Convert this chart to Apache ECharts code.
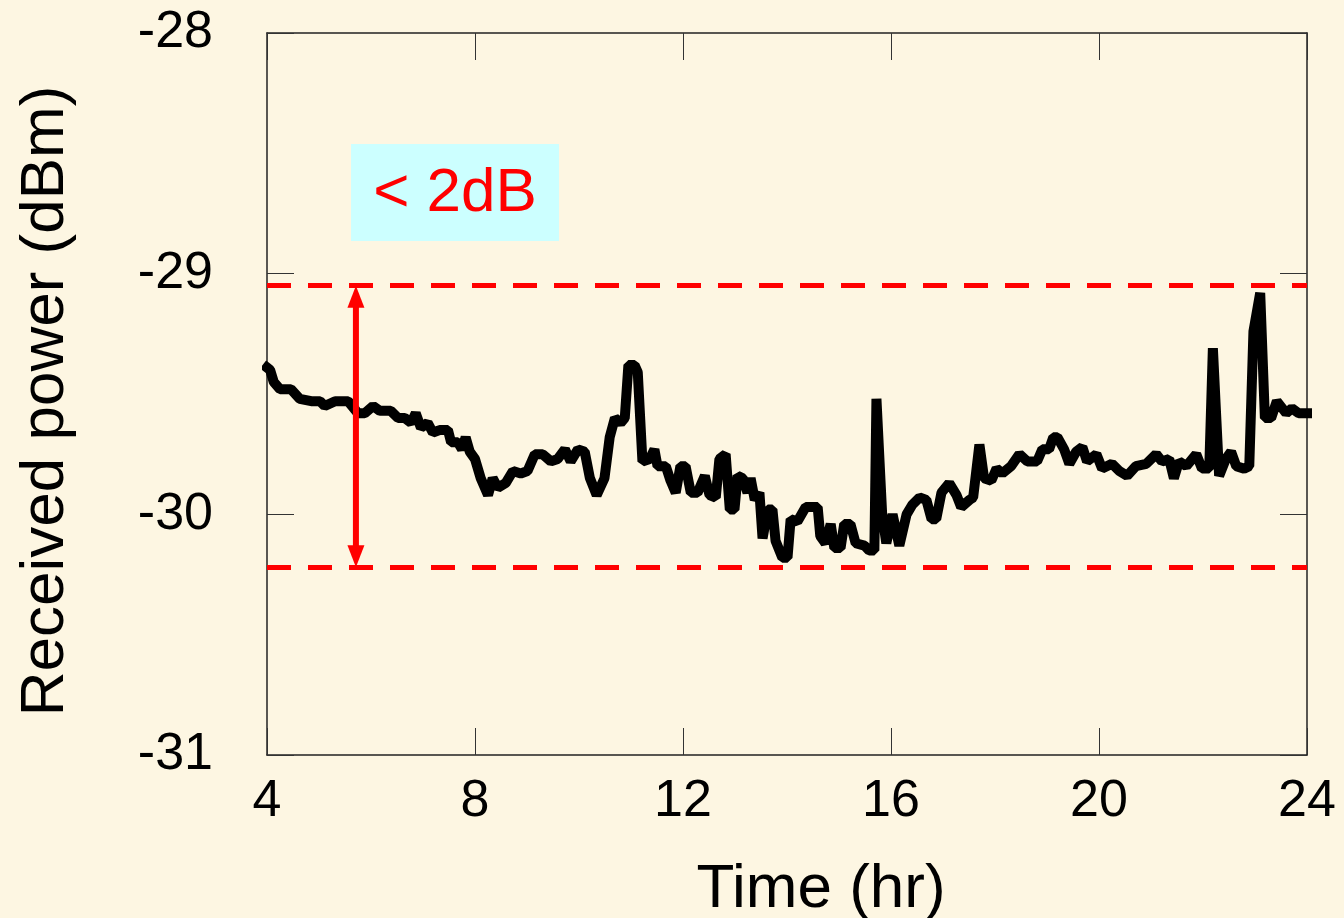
<!DOCTYPE html>
<html>
<head>
<meta charset="utf-8">
<script src="https://cdn.jsdelivr.net/npm/echarts@6/dist/echarts.min.js"></script>
<style>
  html, body { margin: 0; padding: 0; background: #fdf6e2; }
  #chart { width: 1344px; height: 918px; }
</style>
</head>
<body>
<div id="chart"></div>
<script>
// Received optical power over one day (time in hours, power in dBm)
const timeHr = [
  4.00, 4.06, 4.13, 4.25, 4.46, 4.63, 4.85, 5.02, 5.11, 5.31, 5.56, 5.75, 5.88, 6.04, 6.17, 6.38,
  6.52, 6.65, 6.77, 6.86, 6.96, 7.09, 7.19, 7.32, 7.48, 7.54, 7.67, 7.75, 7.82, 7.90, 8.00, 8.11,
  8.25, 8.34, 8.44, 8.59, 8.73, 8.88, 9.01, 9.15, 9.30, 9.46, 9.59, 9.73, 9.84, 9.98, 10.11, 10.21,
  10.34, 10.49, 10.59, 10.69, 10.80, 10.88, 10.95, 11.07, 11.13, 11.22, 11.36, 11.45, 11.51, 11.67,
  11.76, 11.86, 11.95, 12.05, 12.15, 12.28, 12.42, 12.51, 12.63, 12.70, 12.82, 12.90, 12.99, 13.05,
  13.15, 13.24, 13.30, 13.38, 13.47, 13.53, 13.63, 13.72, 13.78, 13.91, 14.01, 14.07, 14.20, 14.36,
  14.45, 14.59, 14.64, 14.74, 14.84, 14.91, 15.03, 15.10, 15.22, 15.32, 15.49, 15.58, 15.68, 15.72,
  15.83, 15.91, 16.03, 16.16, 16.30, 16.41, 16.55, 16.68, 16.78, 16.87, 16.97, 17.12, 17.26, 17.35,
  17.51, 17.58, 17.70, 17.79, 17.93, 18.03, 18.14, 18.31, 18.47, 18.62, 18.81, 18.91, 19.04, 19.12,
  19.20, 19.33, 19.43, 19.56, 19.68, 19.77, 19.95, 20.06, 20.25, 20.39, 20.54, 20.71, 20.91, 21.10,
  21.21, 21.35, 21.44, 21.54, 21.68, 21.87, 21.98, 22.12, 22.19, 22.31, 22.44, 22.54, 22.64, 22.79,
  22.89, 22.97, 23.10, 23.19, 23.31, 23.42, 23.60, 23.71, 23.84, 24.00
];
const powerDbm = [
  -29.39, -29.40, -29.45, -29.48, -29.48, -29.52, -29.53, -29.53, -29.55, -29.53, -29.53, -29.58, -29.58, -29.55, -29.57, -29.57,
  -29.60, -29.60, -29.62, -29.58, -29.64, -29.62, -29.66, -29.65, -29.65, -29.70, -29.70, -29.73, -29.68, -29.74, -29.77, -29.85,
  -29.92, -29.85, -29.89, -29.87, -29.82, -29.83, -29.82, -29.75, -29.75, -29.78, -29.77, -29.73, -29.78, -29.73, -29.74, -29.85,
  -29.92, -29.85, -29.68, -29.60, -29.62, -29.60, -29.38, -29.38, -29.41, -29.78, -29.77, -29.73, -29.80, -29.80,
  -29.86, -29.91, -29.80, -29.80, -29.91, -29.91, -29.84, -29.92, -29.93, -29.77, -29.75, -29.98, -29.98, -29.84,
  -29.85, -29.91, -29.85, -29.94, -29.91, -30.10, -29.98, -29.98, -30.11, -30.18, -30.18, -30.02, -30.03, -29.97,
  -29.97, -29.97, -30.09, -30.12, -30.04, -30.14, -30.14, -30.04, -30.04, -30.12, -30.13, -30.15, -30.15, -29.52,
  -30.00, -30.12, -30.00, -30.13, -30.00, -29.96, -29.93, -29.94, -30.02, -30.02, -29.91, -29.87, -29.92, -29.97,
  -29.94, -29.93, -29.71, -29.85, -29.86, -29.81, -29.83, -29.80, -29.75, -29.78, -29.78, -29.73, -29.73, -29.68,
  -29.68, -29.73, -29.79, -29.74, -29.72, -29.78, -29.75, -29.81, -29.79, -29.82, -29.84, -29.80, -29.79, -29.75,
  -29.78, -29.77, -29.85, -29.78, -29.80, -29.75, -29.81, -29.81, -29.31, -29.84, -29.77, -29.74, -29.80, -29.81,
  -29.80, -29.24, -29.08, -29.60, -29.60, -29.53, -29.58, -29.56, -29.58, -29.58
];

// Band limits marked with dashed lines and the span arrow
const bandUpper = -29.05;
const bandLower = -30.22;
const arrowTime = 5.71;
const bandLabel = '< 2dB';

// Axis ranges
const xMin = 4, xMax = 24, xStep = 4;
const yMin = -31, yMax = -28, yStep = 1;

const FONT = '"Liberation Sans", Arial, Helvetica, sans-serif';
const RED = '#ff0000';

const seriesData = timeHr.map((t, i) => [t, powerDbm[i]]);

const chart = echarts.init(document.getElementById('chart'), null, { renderer: 'canvas' });

const tickCommon = { show: true, inside: true, length: 27, lineStyle: { color: '#333', width: 1 } };
const lineCommon = { show: true, onZero: false, lineStyle: { color: '#222', width: 1.5 } };

chart.setOption({
  backgroundColor: '#fdf6e2',
  animation: false,
  grid: { left: 267, right: 37, top: 33, bottom: 163, containLabel: false, outerBoundsMode: 'none' },
  xAxis: [
    {
      type: 'value', min: xMin, max: xMax, interval: xStep, position: 'bottom',
      axisLine: lineCommon, axisTick: tickCommon, splitLine: { show: false },
      axisLabel: { fontSize: 52, color: '#000', margin: 21, fontFamily: FONT },
      name: 'Time (hr)', nameLocation: 'middle', nameGap: 104,
      nameTextStyle: { fontSize: 62, color: '#000', fontFamily: FONT, padding: [0, 0, 0, 68] }
    },
    {
      type: 'value', min: xMin, max: xMax, interval: xStep, position: 'top',
      axisLine: lineCommon, axisTick: tickCommon, splitLine: { show: false },
      axisLabel: { show: false }
    }
  ],
  yAxis: [
    {
      type: 'value', min: yMin, max: yMax, interval: yStep, position: 'left',
      axisLine: lineCommon, axisTick: tickCommon, splitLine: { show: false },
      axisLabel: { fontSize: 52, color: '#000', margin: 54, fontFamily: FONT },
      name: 'Received power (dBm)', nameLocation: 'middle', nameGap: 190,
      nameTextStyle: { fontSize: 62, color: '#000', fontFamily: FONT, padding: [0, 14, 0, 0] }
    },
    {
      type: 'value', min: yMin, max: yMax, interval: yStep, position: 'right',
      axisLine: lineCommon, axisTick: tickCommon, splitLine: { show: false },
      axisLabel: { show: false }
    }
  ],
  series: [
    {
      type: 'line',
      data: seriesData,
      showSymbol: false,
      symbol: 'none',
      lineStyle: { color: '#000', width: 10, cap: 'square', join: 'bevel' },
      z: 3,
      markLine: {
        silent: true,
        symbol: 'none',
        label: { show: false },
        lineStyle: { color: RED, width: 5, type: [24, 17] },
        data: [{ yAxis: bandUpper }, { yAxis: bandLower }]
      }
    },
    {
      // double-headed arrow spanning the band
      type: 'custom',
      data: [[arrowTime, bandUpper, bandLower]],
      z: 4,
      renderItem: function (params, api) {
        const top = api.coord([api.value(0), api.value(1)]);
        const bot = api.coord([api.value(0), api.value(2)]);
        const x = top[0];
        const headL = 22, headW = 8.5;
        return {
          type: 'group',
          children: [
            { type: 'line', shape: { x1: x, y1: top[1] + headL - 2, x2: x, y2: bot[1] - headL + 2 },
              style: { stroke: RED, lineWidth: 6 } },
            { type: 'polygon', shape: { points: [[x, top[1]], [x - headW, top[1] + headL], [x + headW, top[1] + headL]] },
              style: { fill: RED } },
            { type: 'polygon', shape: { points: [[x, bot[1]], [x - headW, bot[1] - headL], [x + headW, bot[1] - headL]] },
              style: { fill: RED } }
          ]
        };
      }
    }
  ],
  graphic: [
    { type: 'rect', shape: { x: 351, y: 144, width: 208, height: 97 }, style: { fill: '#ccffff' }, z: 1 },
    { type: 'text', x: 455, y: 194, z: 2,
      style: { text: bandLabel, font: '62px ' + FONT, fill: RED, align: 'center', verticalAlign: 'middle' } }
  ]
});
</script>
</body>
</html>
